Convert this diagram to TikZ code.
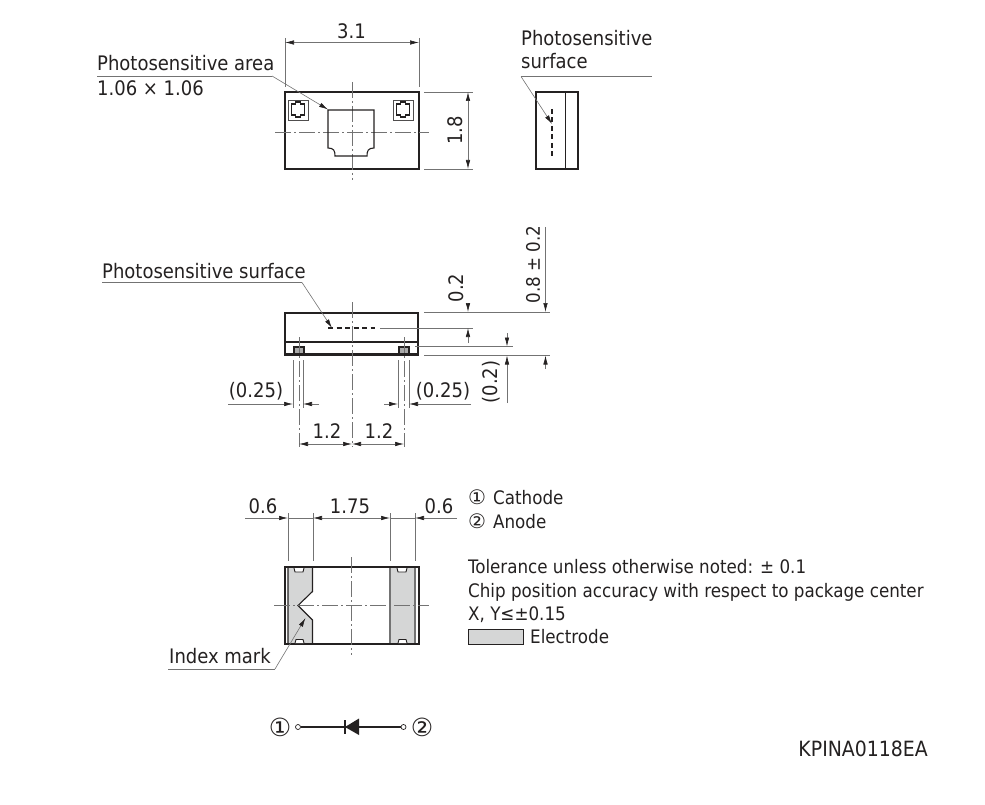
\documentclass[tikz,border=0pt]{standalone}
\usepackage{fontspec}
\setmainfont{DejaVu Sans Condensed}
\newfontfamily\circfont{DejaVu Sans}
\usetikzlibrary{arrows.meta}
\definecolor{elecgray}{rgb}{0.835,0.84,0.84}
\definecolor{thingray}{rgb}{0.45,0.45,0.45}
\definecolor{bodyblack}{rgb}{0.14,0.13,0.13}
\tikzset{
  bodyline/.style={line width=2.4pt,draw=bodyblack},
  partline/.style={line width=1.1pt,draw=bodyblack},
  thinline/.style={line width=0.6pt,draw=thingray},
  centerline/.style={line width=0.6pt,draw=thingray,dash pattern=on 16pt off 3pt on 2pt off 3pt},
  dimtip/.style={thinline,-{Latex[length=9pt,width=4.5pt,color=bodyblack]}},
  dimboth/.style={thinline,{Latex[length=9pt,width=4.5pt,color=bodyblack]}-{Latex[length=9pt,width=4.5pt,color=bodyblack]}},
  lbl/.style={inner sep=0pt,text=bodyblack,font=\fontsize{20}{22}\selectfont},
  dimlbl/.style={lbl,anchor=center},
  notelbl/.style={lbl,anchor=base west},
  legendlbl/.style={notelbl,font=\fontsize{18.6}{22}\selectfont},
}
\begin{document}
\begin{tikzpicture}[x=1pt,y=-1pt]
\useasboundingbox (0,0) rectangle (985,805);

% Drawing top view body
\draw [bodyline] (285,92) rectangle (419,169);
\draw [centerline] (352,82) -- (352,180);
\draw [centerline] (275,132) -- (429,132);

% Drawing photosensitive area
\draw [partline] (328,110) -- (374,110) -- (374,148) .. controls (368,148) and (367,151) .. (367,156) -- (335,156) .. controls (335,151) and (334,148) .. (328,148) -- cycle;

% Drawing top view marks
\foreach \markx in {288.5,393.5} {
  \draw [line width=0.7pt,draw=bodyblack!80] (\markx,100) rectangle ++(19.5,20);
  \draw [partline] (\markx+3,104) -- ++(4,0) -- ++(0,-2) -- ++(5,0) -- ++(0,2) -- ++(4,0) -- ++(0,11) -- ++(-4,0) -- ++(0,2) -- ++(-5,0) -- ++(0,-2) -- ++(-4,0) -- cycle;
}

% Drawing dimension 3.1
\draw [thinline] (285,38) -- (285,87);
\draw [thinline] (419,38) -- (419,87);
\draw [dimboth] (285,42.5) -- (419,42.5);
\node [dimlbl] (dimwidth) at (351.5,31.5) {3.1};

% Drawing dimension 1.8
\draw [thinline] (424,92) -- (473,92);
\draw [thinline] (424,169) -- (473,169);
\draw [dimboth] (468,92) -- (468,169);
\node [dimlbl,rotate=90] (dimheight) at (455,130.5) {1.8};

% Drawing leader photosensitive area
\node [notelbl] (areaname) at (97,71) {Photosensitive area};
\node [notelbl] (areasize) at (97,96) {1.06 × 1.06};
\draw [thinline] (97,76) -- (272,76);
\draw [dimtip] (272,76) -- (328,109.5);

% Drawing side view body
\draw [bodyline] (536,92) rectangle (578,169);
\draw [partline] (565.5,92) -- (565.5,169);
\draw [partline,dash pattern=on 5pt off 3.5pt] (552,109) -- (552,156);
\node [notelbl] (sidename) at (521,46) {Photosensitive};
\node [notelbl] (sidename2) at (521,69) {surface};
\draw [thinline] (521,76.5) -- (652,76.5);
\draw [dimtip] (521,76.5) -- (552,124);

% Drawing front view body
\draw [bodyline] (285,313) rectangle (418,354.5);
\draw [partline] (284,342) -- (418,342);
\foreach \padx in {294,399} {
  \draw [partline,fill=thingray!60] (\padx,347) rectangle ++(10,7);
}
\draw [centerline] (352,302) -- (352,447);
\draw [centerline] (299,337) -- (299,447);
\draw [centerline] (404,337) -- (404,447);

% Drawing photosensitive surface
\draw [partline,dash pattern=on 5pt off 3.5pt] (328,328) -- (375,328);
\node [notelbl] (frontname) at (102,278) {Photosensitive surface};
\draw [thinline] (102,282.5) -- (302,282.5);
\draw [dimtip] (302,282.5) -- (332,328);

% Drawing front view extension lines
\draw [thinline] (424,312) -- (550,312);
\draw [thinline] (380,328) -- (473,328);
\draw [thinline] (415,346.5) -- (513,346.5);
\draw [thinline] (424,355.5) -- (550,355.5);
\foreach \extx in {293,303,398,409} {
  \draw [thinline] (\extx,360) -- (\extx,408);
}

% Drawing dimension 0.2
\draw [dimtip] (468,303) -- (468,312);
\draw [dimtip] (468,343) -- (468,328);
\node [dimlbl,rotate=90] (dimchip) at (456,288) {0.2};

% Drawing dimension (0.2)
\draw [dimtip] (507,333) -- (507,346.5);
\draw [dimtip] (507,403) -- (507,355.5);
\node [dimlbl,rotate=90] (dimpad) at (491.5,382) {(0.2)};

% Drawing dimension 0.8
\draw [dimtip] (545.5,227) -- (545.5,312);
\draw [dimtip] (545.5,369) -- (545.5,355.5);
\node [dimlbl,rotate=90,font=\fontsize{18.6}{22}\selectfont] (dimthick) at (533,264.5) {0.8 ± 0.2};

% Drawing dimension (0.25)
\draw [dimtip] (228,404) -- (293,404);
\draw [dimtip] (319,404) -- (303,404);
\draw [dimtip] (384,404) -- (398,404);
\draw [dimtip] (471,404) -- (409,404);
\node [dimlbl] (dimpadl) at (256,391) {(0.25)};
\node [dimlbl] (dimpadr) at (443,391) {(0.25)};

% Drawing dimension 1.2
\draw [dimboth] (299,444) -- (352,444);
\draw [dimboth] (352,444) -- (404,444);
\node [dimlbl] (dimpitchl) at (327,431) {1.2};
\node [dimlbl] (dimpitchr) at (379,431) {1.2};

% Drawing bottom view electrodes
\draw [partline,fill=elecgray] (288,567) -- (312.5,567) -- (312.5,591.5) -- (298,605.5) -- (312.5,620) -- (312.5,644) -- (288,644) -- cycle;
\draw [partline,draw=thingray,line width=1.2pt,fill=elecgray] (390,567) rectangle (415,644);
\draw [bodyline] (285,567) rectangle (419,644);
\foreach \tabx in {294,397} {
  \draw [line width=0.9pt,draw=bodyblack,fill=white] (\tabx,568) -- (\tabx+1,572) -- (\tabx+9,572) -- (\tabx+10,568);
  \draw [line width=0.9pt,draw=bodyblack,fill=white] (\tabx+1,643) -- (\tabx+2,639.5) -- (\tabx+9,639.5) -- (\tabx+10,643);
}
\draw [centerline] (351.5,557) -- (351.5,655);
\draw [centerline] (274,605.5) -- (429,605.5);

% Drawing bottom view dimensions
\foreach \extx in {288,313,390,415} {
  \draw [thinline] (\extx,513) -- (\extx,561);
}
\draw [dimtip] (245,518) -- (288,518);
\draw [thinline] (288,518) -- (313,518);
\draw [dimboth] (313,518) -- (390,518);
\draw [thinline] (390,518) -- (415,518);
\draw [dimtip] (457,518) -- (415,518);
\node [dimlbl] (dimelecl) at (263,506) {0.6};
\node [dimlbl] (dimgap) at (350,506) {1.75};
\node [dimlbl] (dimelecr) at (439,506) {0.6};

% Drawing leader index mark
\node [notelbl] (indexname) at (169,663) {Index mark};
\draw [thinline] (168,669) -- (275,669);
\draw [dimtip] (275,669) -- (305.5,618);

% Drawing legend
\node [lbl,anchor=center,font=\circfont\fontsize{20}{22}\selectfont] (legendone) at (477,497) {①};
\node [legendlbl] (cathode) at (493,504) {Cathode};
\node [lbl,anchor=center,font=\circfont\fontsize{20}{22}\selectfont] (legendtwo) at (477,521) {②};
\node [legendlbl] (anode) at (493,528) {Anode};
\node [legendlbl] (tolerance) at (468,573) {Tolerance unless otherwise noted: ± 0.1};
\node [legendlbl] (accuracy) at (468,597) {Chip position accuracy with respect to package center};
\node [legendlbl] (accuracyxy) at (468,620) {X, Y≤±0.15};
\draw [line width=0.7pt,draw=bodyblack,fill=elecgray] (468,629) rectangle (523,644);
\node [legendlbl] (electrode) at (530,643) {Electrode};

% Drawing diode symbol
\node [lbl,anchor=center,font=\circfont\fontsize{25}{28}\selectfont] (pinone) at (280,727) {①};
\node [lbl,anchor=center,font=\circfont\fontsize{25}{28}\selectfont] (pintwo) at (422,727) {②};
\node [circle,draw=bodyblack,line width=0.7pt,inner sep=0pt,minimum size=5pt] (termone) at (298,727) {};
\node [circle,draw=bodyblack,line width=0.7pt,inner sep=0pt,minimum size=5pt] (termtwo) at (403.5,727) {};
\draw [partline] (termone) -- (termtwo);
\draw [partline] (345,720) -- (345,733.5);
\fill [bodyblack] (345,727) -- (359,718.5) -- (359,735) -- cycle;

% Drawing part number
\node [lbl,anchor=base east,font=\fontsize{21}{24}\selectfont] (partno) at (928,756) {KPINA0118EA};
\end{tikzpicture}
\end{document}
